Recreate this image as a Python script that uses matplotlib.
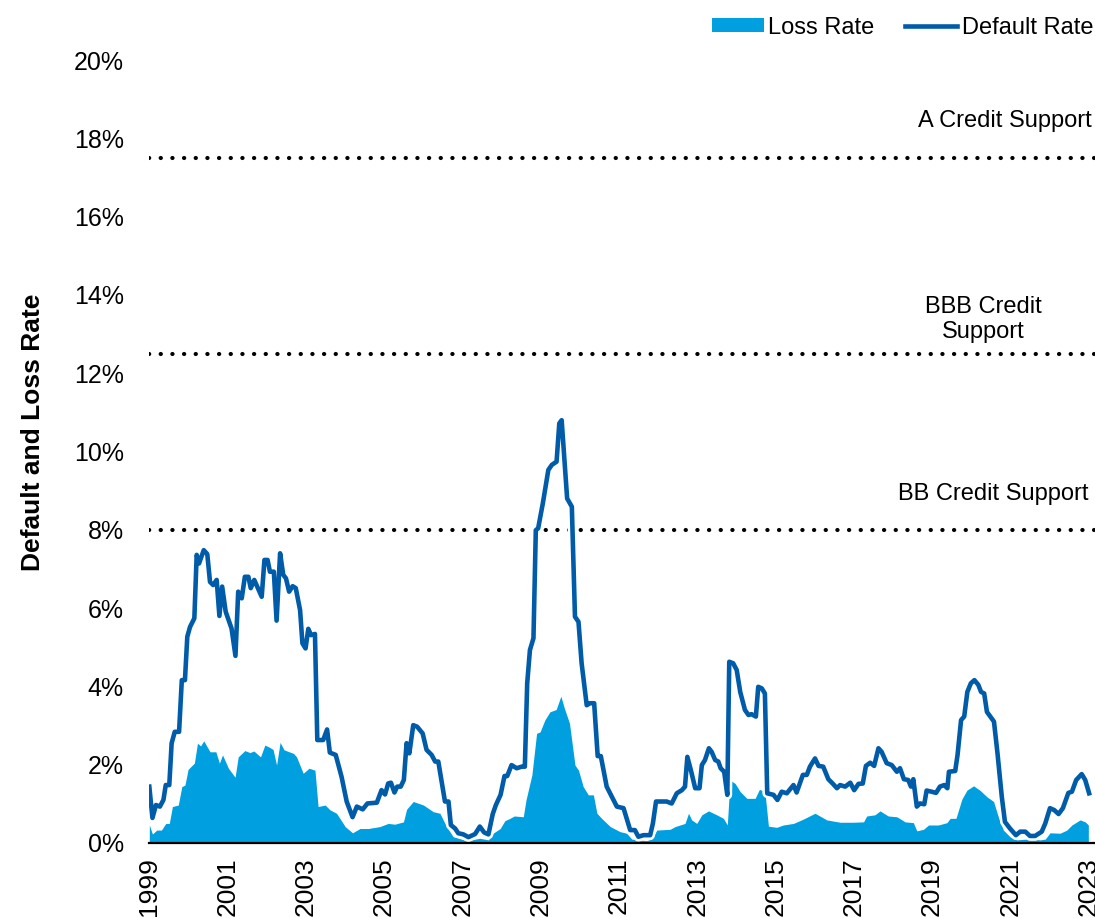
import numpy as np
import matplotlib
matplotlib.use("Agg")
import matplotlib.pyplot as plt
import matplotlib.patheffects as pe
from matplotlib.lines import Line2D
from matplotlib.patches import Patch

plt.rcParams['font.family'] = ['Liberation Sans', 'DejaVu Sans']

# default rate (%)
default_year = [
    1999.01, 1999.09, 1999.18, 1999.28, 1999.37, 1999.43, 1999.52, 1999.58, 1999.66, 1999.77,
    1999.84, 1999.92, 1999.98, 2000.05, 2000.16, 2000.22, 2000.28, 2000.40, 2000.49, 2000.56,
    2000.64, 2000.73, 2000.80, 2000.87, 2000.96, 2001.11, 2001.21, 2001.28, 2001.37, 2001.45,
    2001.54, 2001.60, 2001.69, 2001.88, 2001.95, 2002.03, 2002.09, 2002.19, 2002.26, 2002.35,
    2002.43, 2002.50, 2002.58, 2002.67, 2002.75, 2002.86, 2002.92, 2003.00, 2003.07, 2003.14,
    2003.24, 2003.30, 2003.45, 2003.55, 2003.62, 2003.77, 2003.92, 2004.05, 2004.20, 2004.31,
    2004.46, 2004.58, 2004.82, 2004.94, 2005.03, 2005.11, 2005.18, 2005.27, 2005.34, 2005.43,
    2005.51, 2005.58, 2005.65, 2005.75, 2005.85, 2005.99, 2006.09, 2006.22, 2006.31, 2006.39,
    2006.56, 2006.65, 2006.71, 2006.82, 2006.90, 2007.03, 2007.16, 2007.33, 2007.45, 2007.56,
    2007.67, 2007.78, 2007.86, 2007.98, 2008.08, 2008.15, 2008.26, 2008.39, 2008.52, 2008.60,
    2008.66, 2008.73, 2008.82, 2008.88, 2008.94, 2009.06, 2009.20, 2009.29, 2009.41, 2009.48,
    2009.54, 2009.60, 2009.68, 2009.80, 2009.88, 2009.97, 2010.05, 2010.18, 2010.26, 2010.37,
    2010.46, 2010.54, 2010.69, 2010.95, 2011.12, 2011.29, 2011.41, 2011.50, 2011.63, 2011.80,
    2011.87, 2011.95, 2012.22, 2012.35, 2012.48, 2012.61, 2012.69, 2012.75, 2012.84, 2012.95,
    2013.06, 2013.12, 2013.20, 2013.30, 2013.37, 2013.46, 2013.54, 2013.60, 2013.69, 2013.77,
    2013.82, 2013.92, 2014.01, 2014.10, 2014.22, 2014.31, 2014.39, 2014.50, 2014.56, 2014.65,
    2014.73, 2014.79, 2014.95, 2015.05, 2015.16, 2015.29, 2015.46, 2015.54, 2015.70, 2015.80,
    2015.88, 2016.01, 2016.10, 2016.22, 2016.35, 2016.46, 2016.57, 2016.65, 2016.78, 2016.91,
    2017.01, 2017.12, 2017.23, 2017.31, 2017.42, 2017.52, 2017.63, 2017.71, 2017.84, 2017.97,
    2018.10, 2018.18, 2018.28, 2018.39, 2018.46, 2018.52, 2018.61, 2018.69, 2018.80, 2018.86,
    2018.99, 2019.10, 2019.20, 2019.31, 2019.39, 2019.43, 2019.59, 2019.65, 2019.74, 2019.82,
    2019.90, 2019.99, 2020.08, 2020.18, 2020.25, 2020.33, 2020.40, 2020.50, 2020.58, 2020.67,
    2020.78, 2020.86, 2020.99, 2021.14, 2021.25, 2021.38, 2021.50, 2021.63, 2021.80, 2021.89,
    2022.01, 2022.12, 2022.23, 2022.34, 2022.48, 2022.57, 2022.68, 2022.82, 2022.91, 2023.01,
]
default_rate = [
    1.44, 0.64, 0.97, 0.93, 1.10, 1.48, 1.48, 2.55, 2.84, 2.84,
    4.16, 4.16, 5.27, 5.52, 5.74, 7.36, 7.14, 7.48, 7.38, 6.67,
    6.59, 6.72, 5.80, 6.55, 5.91, 5.48, 4.78, 6.42, 6.25, 6.80,
    6.80, 6.51, 6.72, 6.29, 7.23, 7.23, 6.93, 6.93, 5.68, 7.40,
    6.85, 6.76, 6.42, 6.56, 6.51, 5.95, 5.10, 4.97, 5.47, 5.31,
    5.34, 2.63, 2.63, 2.90, 2.31, 2.25, 1.69, 1.06, 0.66, 0.93,
    0.86, 1.01, 1.03, 1.35, 1.24, 1.52, 1.54, 1.29, 1.44, 1.44,
    1.61, 2.55, 2.29, 3.01, 2.97, 2.80, 2.38, 2.25, 2.08, 2.08,
    1.06, 1.06, 0.46, 0.37, 0.25, 0.22, 0.15, 0.23, 0.42, 0.27,
    0.22, 0.74, 0.97, 1.23, 1.71, 1.71, 1.99, 1.91, 1.95, 1.95,
    4.08, 4.93, 5.23, 7.99, 8.04, 8.68, 9.53, 9.66, 9.74, 10.72,
    10.80, 9.95, 8.80, 8.59, 5.78, 5.65, 4.59, 3.52, 3.57, 3.57,
    2.22, 2.22, 1.44, 0.93, 0.89, 0.33, 0.33, 0.16, 0.20, 0.20,
    0.50, 1.06, 1.06, 1.01, 1.27, 1.35, 1.44, 2.20, 1.86, 1.40,
    1.40, 1.99, 2.12, 2.42, 2.33, 2.12, 2.08, 1.91, 1.82, 1.23,
    4.63, 4.59, 4.42, 3.86, 3.40, 3.27, 3.29, 3.23, 3.99, 3.95,
    3.82, 1.27, 1.23, 1.10, 1.31, 1.27, 1.48, 1.29, 1.74, 1.74,
    1.95, 2.16, 1.97, 1.95, 1.63, 1.52, 1.40, 1.48, 1.44, 1.54,
    1.35, 1.51, 1.52, 1.97, 2.05, 1.97, 2.42, 2.33, 2.04, 1.99,
    1.82, 1.91, 1.63, 1.61, 1.44, 1.63, 0.93, 1.01, 0.99, 1.34,
    1.31, 1.28, 1.44, 1.48, 1.40, 1.82, 1.84, 2.25, 3.14, 3.23,
    3.86, 4.08, 4.16, 4.04, 3.86, 3.82, 3.35, 3.21, 3.10, 2.29,
    1.18, 0.54, 0.37, 0.20, 0.29, 0.29, 0.18, 0.18, 0.29, 0.50,
    0.89, 0.84, 0.74, 0.89, 1.28, 1.31, 1.61, 1.76, 1.61, 1.27,
]

# loss rate (%)
loss_year = [
    1999.01, 1999.09, 1999.20, 1999.32, 1999.43, 1999.52, 1999.60, 1999.75, 1999.84, 1999.92,
    2000.00, 2000.16, 2000.24, 2000.32, 2000.40, 2000.56, 2000.71, 2000.80, 2000.88, 2001.03,
    2001.20, 2001.28, 2001.45, 2001.58, 2001.68, 2001.85, 2001.96, 2002.05, 2002.17, 2002.26,
    2002.35, 2002.45, 2002.58, 2002.69, 2002.77, 2002.94, 2003.09, 2003.24, 2003.32, 2003.50,
    2003.62, 2003.79, 2003.96, 2004.01, 2004.20, 2004.39, 2004.60, 2004.90, 2005.11, 2005.28,
    2005.50, 2005.58, 2005.75, 2006.01, 2006.26, 2006.43, 2006.60, 2006.77, 2007.12, 2007.45,
    2007.67, 2007.79, 2007.97, 2008.09, 2008.22, 2008.33, 2008.56, 2008.63, 2008.78, 2008.90,
    2008.99, 2009.11, 2009.24, 2009.40, 2009.52, 2009.61, 2009.74, 2009.88, 2009.97, 2010.09,
    2010.22, 2010.35, 2010.44, 2010.56, 2010.78, 2011.03, 2011.20, 2011.33, 2011.71, 2011.84,
    2011.97, 2012.31, 2012.44, 2012.69, 2012.78, 2012.86, 2012.99, 2013.12, 2013.29, 2013.50,
    2013.67, 2013.77, 2013.84, 2013.97, 2014.10, 2014.27, 2014.48, 2014.59, 2014.73, 2014.82,
    2015.03, 2015.20, 2015.46, 2015.71, 2016.01, 2016.31, 2016.65, 2016.99, 2017.25, 2017.33,
    2017.54, 2017.67, 2017.88, 2018.10, 2018.31, 2018.52, 2018.61, 2018.78, 2018.91, 2019.16,
    2019.38, 2019.46, 2019.61, 2019.76, 2019.89, 2020.06, 2020.23, 2020.40, 2020.57, 2020.69,
    2020.82, 2020.99, 2021.16, 2021.42, 2021.76, 2021.89, 2022.01, 2022.27, 2022.44, 2022.57,
    2022.78, 2022.91, 2022.99,
]
loss_rate = [
    0.46, 0.23, 0.33, 0.33, 0.50, 0.50, 0.93, 0.97, 1.44, 1.48,
    1.88, 2.04, 2.55, 2.48, 2.61, 2.33, 2.33, 2.04, 2.25, 1.91,
    1.68, 2.20, 2.36, 2.31, 2.35, 2.20, 2.50, 2.46, 2.39, 1.99,
    2.57, 2.38, 2.33, 2.29, 2.20, 1.78, 1.91, 1.86, 0.93, 0.97,
    0.85, 0.76, 0.50, 0.42, 0.26, 0.37, 0.37, 0.42, 0.50, 0.48,
    0.54, 0.86, 1.06, 0.97, 0.80, 0.76, 0.42, 0.16, 0.06, 0.12,
    0.08, 0.25, 0.37, 0.57, 0.63, 0.69, 0.67, 1.10, 1.74, 2.80,
    2.84, 3.14, 3.35, 3.41, 3.75, 3.44, 3.06, 1.99, 1.86, 1.44,
    1.23, 1.23, 0.76, 0.63, 0.42, 0.29, 0.25, 0.10, 0.06, 0.10,
    0.33, 0.35, 0.42, 0.50, 0.76, 0.59, 0.50, 0.72, 0.82, 0.72,
    0.63, 0.46, 1.61, 1.52, 1.31, 1.14, 1.14, 1.37, 1.31, 0.43,
    0.40, 0.46, 0.50, 0.61, 0.76, 0.59, 0.53, 0.53, 0.54, 0.69,
    0.72, 0.82, 0.69, 0.67, 0.54, 0.52, 0.31, 0.35, 0.46, 0.46,
    0.52, 0.63, 0.63, 1.12, 1.35, 1.46, 1.34, 1.18, 1.06, 0.67,
    0.33, 0.16, 0.08, 0.10, 0.08, 0.10, 0.26, 0.25, 0.33, 0.46,
    0.59, 0.54, 0.46,
]

support_levels = [8.0, 12.5, 17.5]
year_ticks = list(range(1999, 2024, 2))
pct_ticks = list(range(0, 21, 2))

fill_color = '#00A0E0'
line_color = '#005CA9'

fig = plt.figure(figsize=(10.95, 9.18), dpi=100)
ax = fig.add_axes([0.136, 0.0817, 0.864, 0.8529])

ax.fill_between(loss_year, loss_rate, 0, color=fill_color, linewidth=0, zorder=2)
ax.plot(default_year, default_rate, color=line_color, linewidth=3.3, zorder=3,
        solid_joinstyle='round',
        path_effects=[pe.Stroke(linewidth=7, foreground='white'), pe.Normal()])

for lvl in support_levels:
    ax.axhline(lvl, color='black', linewidth=3, linestyle=(0, (0.05, 2.75)),
               dash_capstyle='round', zorder=1)

ax.text(2023.07, 18.44, 'A Credit Support', ha='right', va='center', fontsize=17)
ax.text(2020.3, 13.38, 'BBB Credit\nSupport', ha='center', va='center',
        fontsize=17, linespacing=1.18)
ax.text(2023.0, 8.91, 'BB Credit Support', ha='right', va='center', fontsize=17)

ax.set_xlim(1999.0, 2023.16)
ax.set_ylim(0, 20)
ax.set_xticks(year_ticks)
ax.set_xticklabels([str(y) for y in year_ticks], rotation=90, va='top', ha='center')
ax.set_yticks(pct_ticks)
ax.set_yticklabels([f'{p}%' for p in pct_ticks])
ax.tick_params(axis='both', length=0)
ax.tick_params(axis='x', pad=10, labelsize=19)
ax.tick_params(axis='y', pad=18, labelsize=18)

for side in ['top', 'right', 'left']:
    ax.spines[side].set_visible(False)
ax.spines['bottom'].set_color('black')
ax.spines['bottom'].set_linewidth(1.6)
ax.spines['bottom'].set_zorder(4)

fig.text(0.030, 0.529, 'Default and Loss Rate', rotation=90, ha='center',
         va='center', fontsize=19, fontweight='bold')

handles = [Patch(facecolor=fill_color, edgecolor='none'),
           Line2D([], [], color=line_color, linewidth=3.3)]
fig.legend(handles, ['Loss Rate', 'Default Rate'], loc='upper right',
           bbox_to_anchor=(1.018, 1.005), ncol=2, frameon=False, fontsize=17,
           handlelength=2.2, handleheight=0.55, handletextpad=0.2,
           columnspacing=1.3)

fig.savefig('out.png', dpi=100)
